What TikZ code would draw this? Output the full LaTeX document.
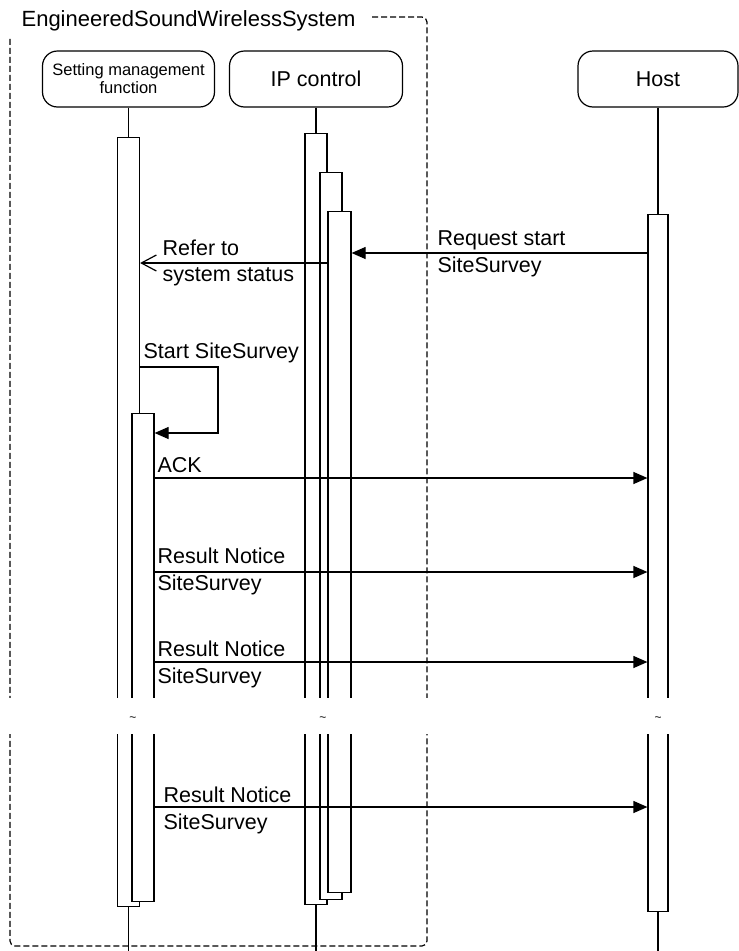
\documentclass[tikz,border=0pt]{standalone}
\usepackage{fontspec}
\setmainfont{Liberation Sans}
\usetikzlibrary{arrows.meta}

\begin{document}
\begin{tikzpicture}[
		x=1pt, y=-1pt, line width=1.2pt,
		every node/.style={inner sep=0pt, font=\fontsize{21.5}{27}\selectfont},
		lifebox/.style={draw, rounded corners=15pt, minimum height=56pt, align=center},
		act/.style={draw, fill=white, minimum width=22pt, anchor=north},
		msg/.style={-{Triangle[length=14pt,width=12pt]}},
		back/.style={-{Straight Barb[length=15pt,width=16pt]}},
		lbl/.style={anchor=west, align=left},
		cut/.style={font=\fontsize{12}{12}\selectfont}
	]
	\useasboundingbox (0,0) rectangle (739,951);

	\node[anchor=west, font=\fontsize{22}{26}\selectfont] (title) at (21,21) {EngineeredSoundWirelessSystem};
	\draw[dash pattern=on 6pt off 3pt, rounded corners=5pt] (372,17) -- (427,17) -- (427,946) -- (10,946) -- (10,37);

	\node[lifebox, minimum width=172pt, font=\fontsize{16.5}{18}\selectfont] (smf) at (128.5,79) {Setting management\\function};
	\node[lifebox, minimum width=173pt] (ipc) at (316,79) {IP control};
	\node[lifebox, minimum width=160pt] (host) at (658,79) {Host};

	\node[act, minimum height=769pt] (smfA) at (128.5,137) {};
	\node[act, minimum height=488pt] (smfB) at (143,413) {};
	\node[act, minimum height=771pt] (ipcA) at (316,133) {};
	\node[act, minimum height=727pt] (ipcB) at (331,172) {};
	\node[act, minimum height=681pt, minimum width=23pt] (ipcC) at (339.5,211) {};
	\node[act, minimum height=697pt, minimum width=20pt] (hostA) at (658,214) {};

	\coordinate (smfEnd) at (128.5,951);
	\coordinate (ipcEnd) at (316,951);
	\coordinate (hostEnd) at (658,951);
	\draw (smf) -- (smfA);
	\draw (ipc) -- (ipcA);
	\draw (host) -- (hostA);
	\draw (smfA) -- (smfEnd);
	\draw (ipcA) -- (ipcEnd);
	\draw (hostA) -- (hostEnd);

	\draw[msg] (hostA.west |- 0,253) -- (ipcC.east |- 0,253);
	\node[lbl] (reqlbl) at (437,254) {Request start\\SiteSurvey};
	\draw[back] (ipcC.west |- 0,263) -- (smfA.east |- 0,263);
	\node[lbl, font=\fontsize{21.5}{26}\selectfont] (reflbl) at (162,263) {Refer to\\system status};

	\coordinate (loopA) at (218,367);
	\coordinate (loopB) at (218,433);
	\draw[msg] (smfA.east |- loopA) -- (loopA) -- (loopB) -- (smfB.east |- loopB);
	\node[lbl] (startlbl) at (143,353) {Start SiteSurvey};

	\draw[msg] (smfB.east |- 0,478) -- (hostA.west |- 0,478);
	\node[lbl] (acklbl) at (157,465) {ACK};
	\draw[msg] (smfB.east |- 0,572) -- (hostA.west |- 0,572);
	\node[lbl] (rn1lbl) at (157,571) {Result Notice\\SiteSurvey};
	\draw[msg] (smfB.east |- 0,662) -- (hostA.west |- 0,662);
	\node[lbl] (rn2lbl) at (157,664) {Result Notice\\SiteSurvey};

	\fill[white] (0,698) rectangle (739,734);
	\node[cut] (smfcut) at (133,719) {\textasciitilde};
	\node[cut] (ipccut) at (323,719) {\textasciitilde};
	\node[cut] (hostcut) at (658,719) {\textasciitilde};

	\draw[msg] (smfB.east |- 0,807) -- (hostA.west |- 0,807);
	\node[lbl] (rn3lbl) at (163,810) {Result Notice\\SiteSurvey};
\end{tikzpicture}
\end{document}
